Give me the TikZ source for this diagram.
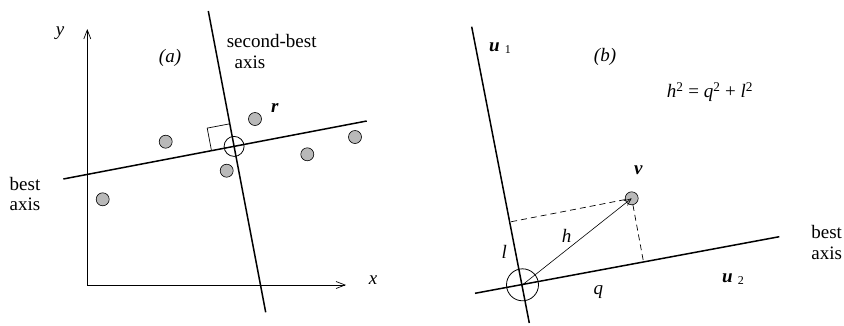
\documentclass[tikz,border=0pt]{standalone}
\usepackage{fontspec}
\setmainfont{Liberation Serif}
\usetikzlibrary{arrows.meta,calc}
\tikzset{
  dot/.style={circle,draw,line width=0.6pt,fill=gray!55,minimum size=13pt,inner sep=0pt},
  axisline/.style={line width=1.5pt},
  thinline/.style={line width=0.7pt},
  lbl/.style={inner sep=0pt,font=\fontsize{19}{21}\selectfont},
  ringmark/.style={circle,draw,line width=0.8pt,inner sep=0pt},
}
\begin{document}
\begin{tikzpicture}[x=1pt,y=-1pt]
\useasboundingbox (0,0) rectangle (844,325);
% ---------- panel (a)
\coordinate (oa) at (87.3,285);
\coordinate (ya) at (87.3,29);
\coordinate (xa) at (346,285);
\draw[thinline,-{Straight Barb[length=9pt,width=7pt]}] (oa) -- (ya);
\draw[thinline,-{Straight Barb[length=9pt,width=7pt]}] (oa) -- (xa);
\node[lbl] (ylab) at (60,33) {\textit{y}};
\node[lbl] (xlab) at (373,280) {\textit{x}};
\coordinate (b1) at (63.3,179);
\coordinate (b2) at (366.7,121);
\coordinate (s1) at (208.3,11);
\coordinate (s2) at (265.7,312.3);
\draw[axisline] (b1) -- (b2);
\draw[axisline] (s1) -- (s2);
\coordinate (O) at (234.1,146.4);
\node[ringmark,minimum size=20pt] (ca) at (O) {};
\draw[thinline] (211.5,150.7) -- (207.2,128.1) -- (229.8,123.8);
\node[dot] (d1) at (165.7,141.7) {};
\node[dot] (d2) at (255,119) {};
\node[dot] (d3) at (226.7,170.7) {};
\node[dot] (d4) at (307.3,154.3) {};
\node[dot] (d5) at (355,137) {};
\node[dot] (d6) at (102.7,199.3) {};
\node[lbl] (la) at (170,58) {\textit{(a)}};
\node[lbl] (sb1) at (271.7,41) {second-best};
\node[lbl] (sb2) at (250,62) {axis};
\node[lbl] (r) at (275,108) {\textbf{\textit{r}}};
\node[lbl] (ba1) at (25,184) {best};
\node[lbl] (ba2) at (25,204) {axis};
% ---------- panel (b)
\coordinate (u1a) at (471.7,26.7);
\coordinate (u1b) at (529.3,323);
\coordinate (bb1) at (475,293.3);
\coordinate (bb2) at (779.3,236.7);
\draw[axisline] (u1a) -- (u1b);
\draw[axisline] (bb1) -- (bb2);
\coordinate (O2) at (522.5,284.8);
\node[ringmark,minimum size=32pt] (cb) at (O2) {};
\node[dot] (v) at (631.7,198.3) {};
\coordinate (fq) at ($(bb1)!(v)!(bb2)$);
\coordinate (fl) at ($(u1a)!(v)!(u1b)$);
\draw[thinline,dash pattern=on 6pt off 4pt] (v) -- (fl);
\draw[thinline,dash pattern=on 6pt off 4pt] (v) -- (fq);
\draw[line width=0.6pt,-{Straight Barb[length=7pt,width=6pt]}] (O2) -- (v.center);
\node[lbl] (u1) at (500,48) {\textbf{\textit{u}}\raisebox{-0.3ex}{\fontsize{12}{12}\selectfont\ \,1}};
\node[lbl] (lb) at (605,57) {\textit{(b)}};
\node[lbl] (eq) at (710,92) {\textit{h}\textsuperscript{2} = \textit{q}\textsuperscript{2} + \textit{l}\textsuperscript{2}};
\node[lbl] (vl) at (638.3,170) {\textbf{\textit{v}}};
\node[lbl] (hl) at (566.7,235.7) {\textit{h}};
\node[lbl] (ll) at (504.3,251.7) {\textit{l}};
\node[lbl] (ql) at (598.3,292.3) {\textit{q}};
\node[lbl] (u2) at (733,279.3) {\textbf{\textit{u}}\raisebox{-0.3ex}{\fontsize{12}{12}\selectfont\ \,2}};
\node[lbl] (bb) at (826.7,232.3) {best};
\node[lbl] (bx) at (826.7,253.3) {axis};
\end{tikzpicture}
\end{document}
